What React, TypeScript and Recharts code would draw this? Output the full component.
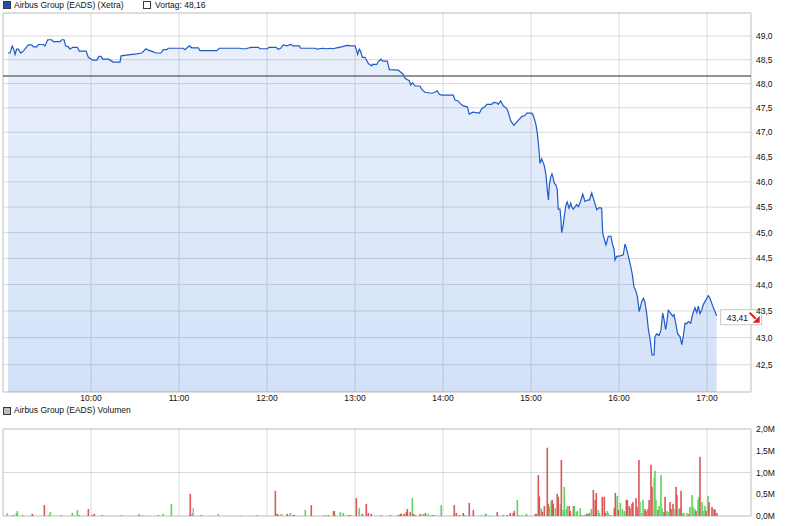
import {
  ComposedChart,
  Area,
  XAxis,
  YAxis,
  CartesianGrid,
  ReferenceLine,
  ReferenceDot,
  ReferenceArea,
  BarChart,
  Bar,
  Cell,
} from "recharts";

// minutes after 9:00 (Xetra session 9:00 - 17:30)
const hourTicks = [60, 120, 180, 240, 300, 360, 420, 480];
const priceTicks = [42.5, 43, 43.5, 44, 44.5, 45, 45.5, 46, 46.5, 47, 47.5, 48, 48.5, 49];
const volumeTicks = [0, 0.5, 1, 1.5, 2];
const previousClose = 48.16;

const priceTimes = [
  3.4, 4.8, 6.3, 7.5, 8.2, 9.3, 10.4, 12.1, 13.8, 17.3, 19.6, 20.7, 23.0, 24.1, 27.5, 28.6, 30.5, 33.2, 34.3, 38.9,
  40.0, 41.6, 42.7, 44.5, 45.7, 47.5, 50.7, 52.0, 56.6, 58.2, 59.3, 61.2, 63.9, 65.5, 66.8, 68.0, 71.8, 73.0, 75.2, 79.8,
  80.5, 85.4, 91.2, 94.6, 97.5, 99.1, 103.0, 104.3, 107.7, 109.3, 111.6, 112.7, 122.9, 124.1, 127.0, 128.7, 133.2, 134.3,
  145.7, 147.5, 161.6, 162.7, 165.7, 166.6, 169.1, 174.1, 175.2, 180.2, 181.4, 186.1, 187.7, 189.3, 191.1, 193.4, 196.2,
  197.9, 202.0, 203.0, 212.7, 213.9, 218.0, 221.1, 223.0, 224.8, 227.5, 230.9, 234.3, 237.7, 240.0,
  241.0, 241.8, 242.9, 243.9, 245.0, 246.8, 249.1, 251.4, 251.8, 254.8, 255.9, 257.7, 258.9, 262.0, 263.4, 269.5, 271.8,
  272.9, 274.1, 277.0, 278.0, 279.3, 280.9, 284.3, 285.5, 287.7, 292.3, 294.5, 296.1, 297.5, 299.1, 307.0, 308.2, 310.4,
  311.6, 313.8, 316.6, 317.9, 320.3, 324.8, 326.4, 328.6, 329.8, 333.2, 334.3, 336.6, 337.7, 339.3, 341.1, 343.4, 344.5,
  346.2, 348.4, 350.7, 353.7, 355.9, 357.1, 360.5, 361.6, 362.7, 363.4, 364.3, 365.0, 365.7, 366.1, 367.3, 368.0, 369.1,
  370.2, 371.1, 371.9, 372.5, 373.4, 374.3, 375.2, 375.9, 377.0, 377.9, 378.6, 379.8, 380.5, 380.9, 381.8, 382.7, 383.9,
  384.7, 385.9, 387.1, 387.7, 388.8, 391.1, 392.3, 393.4, 395.3, 396.8, 398.4, 399.8, 401.4, 403.2, 404.8, 406.6, 408.2,
  408.9, 409.8, 411.1, 412.7, 414.5, 415.7, 416.6, 417.3, 418.4, 420.7, 422.9, 424.1, 425.3, 426.4, 428.0, 429.1, 430.2,
  431.6, 432.5, 433.8, 435.5, 436.6, 437.7, 438.9, 440.0, 441.1, 442.5, 443.9, 444.5, 445.7, 447.3, 448.6, 449.8, 450.7,
  451.8, 452.5, 453.6, 455.2, 456.6, 457.5, 458.9, 460.0, 461.6, 462.8, 463.8, 465.0, 466.2, 467.3, 468.9, 470.3, 471.8,
  473.0, 474.1, 475.2, 476.4, 477.5, 479.3, 480.9, 482.0, 483.8, 485.4, 486.6,
];

const prices = [
  48.64, 48.64, 48.79, 48.7, 48.61, 48.72, 48.72, 48.64, 48.68, 48.81, 48.81, 48.77, 48.77, 48.82, 48.82, 48.79, 48.92, 48.92, 48.88, 48.88,
  48.92, 48.92, 48.79, 48.77, 48.72, 48.76, 48.76, 48.68, 48.68, 48.55, 48.53, 48.49, 48.49, 48.57, 48.57, 48.51, 48.51, 48.49, 48.45, 48.45,
  48.58, 48.6, 48.62, 48.64, 48.73, 48.7, 48.66, 48.64, 48.64, 48.71, 48.71, 48.74, 48.74, 48.71, 48.79, 48.75, 48.75, 48.69,
  48.69, 48.74, 48.74, 48.73, 48.73, 48.74, 48.76, 48.76, 48.73, 48.73, 48.76, 48.76, 48.72, 48.74, 48.81, 48.79, 48.82,
  48.79, 48.79, 48.74, 48.74, 48.72, 48.74, 48.73, 48.74, 48.73, 48.75, 48.77, 48.8, 48.79, 48.79,
  48.7, 48.61, 48.72, 48.67, 48.55, 48.55, 48.42, 48.37, 48.4, 48.4, 48.46, 48.51, 48.47, 48.47, 48.29, 48.28, 48.22,
  48.19, 48.11, 48.06, 47.97, 48.02, 47.95, 47.95, 47.88, 47.82, 47.8, 47.82, 47.85, 47.78, 47.76, 47.76, 47.66, 47.64,
  47.59, 47.54, 47.52, 47.37, 47.41, 47.39, 47.48, 47.52, 47.57, 47.57, 47.61, 47.6, 47.57, 47.64, 47.54, 47.49, 47.41,
  47.23, 47.14, 47.22, 47.32, 47.34, 47.39, 47.39, 47.34, 47.23, 47.15, 46.98, 46.78, 46.54, 46.37, 46.46, 46.41, 46.32,
  46.14, 45.84, 45.64, 45.94, 46.09, 46.16, 46.07, 45.97, 45.94, 45.84, 45.46, 45.46, 45.22, 45.0, 45.12, 45.32, 45.55,
  45.6, 45.48, 45.58, 45.51, 45.46, 45.55, 45.51, 45.58, 45.76, 45.61, 45.64, 45.64, 45.78, 45.61, 45.45, 45.49, 45.48,
  44.99, 44.89, 44.76, 44.93, 44.93, 44.76, 44.68, 44.47, 44.54, 44.55, 44.57, 44.78, 44.67, 44.54, 44.35, 44.19, 43.96,
  43.87, 43.77, 43.49, 43.68, 43.74, 43.66, 43.45, 43.16, 42.99, 42.68, 42.68, 43.02, 43.07, 43.04, 43.14, 43.46, 43.34,
  43.15, 43.27, 43.51, 43.46, 43.4, 43.43, 43.24, 43.07, 43.02, 42.87, 43.02, 43.27, 43.26, 43.3, 43.27, 43.45, 43.56,
  43.47, 43.59, 43.45, 43.52, 43.62, 43.71, 43.79, 43.74, 43.6, 43.49, 43.41,
];

const volumeTimes = [
  2.9, 7.0, 9.1, 9.8, 13.4, 20.0, 28.2, 28.6, 30.9, 32.2,
  39.7, 47.3, 50.7, 52.0, 58.2, 60.9, 62.2, 67.7, 80.7, 92.2,
  92.9, 95.0, 105.9, 109.3, 114.8, 127.0, 127.7, 129.1, 129.7, 135.2,
  146.8, 161.8, 173.4, 185.7, 187.0, 187.7, 189.8, 193.8, 195.2, 195.9,
  197.9, 198.6, 206.1, 210.2, 219.1, 219.8, 221.8, 225.2, 225.9, 226.6,
  230.0, 232.0, 234.8, 236.1, 236.8, 240.9, 242.9, 245.0, 247.7, 249.1,
  251.1, 257.9, 264.1, 269.5, 270.9, 271.6, 273.6, 275.0, 275.7, 277.7,
  279.1, 279.8, 281.1, 284.5, 286.6, 288.0, 290.0, 292.7, 294.1, 298.2,
  298.8, 307.7, 309.1, 311.1, 313.8, 314.5, 317.9, 320.7, 326.1, 328.8,
  329.5, 331.6, 337.0, 341.1, 343.8, 345.9, 347.9, 348.6, 350.7, 352.0,
  354.1, 356.8, 357.5, 363.0, 363.6, 365.0, 365.7, 367.0, 367.7, 369.1,
  371.1, 371.8, 372.5, 373.8, 374.5, 375.2, 376.6, 377.9, 378.6, 380.0,
  380.7, 382.0, 382.7, 384.1, 384.8, 386.1, 386.8, 388.9, 389.5, 390.9,
  391.6, 393.6, 394.3, 396.3, 397.7, 398.4, 399.8, 401.1, 402.5, 403.2,
  403.8, 404.5, 405.9, 406.6, 408.6, 410.0, 410.7, 412.0, 412.7, 414.1,
  416.8, 417.5, 418.8, 419.5, 420.9, 422.3, 423.6, 425.0, 425.7, 427.0,
  427.5, 428.9, 429.5, 431.6, 432.3, 433.6, 434.3, 435.7, 436.4, 437.7,
  438.4, 439.8, 440.5, 441.8, 442.5, 443.9, 444.5, 445.2, 446.6, 447.3,
  448.6, 449.3, 450.7, 451.4, 452.7, 453.4, 454.8, 455.5, 456.8, 457.5,
  458.9, 459.5, 460.2, 461.6, 462.3, 463.6, 464.3, 466.4, 467.7, 468.4,
  469.8, 470.5, 471.8, 472.5, 473.9, 474.5, 475.2, 476.6, 477.3, 478.6,
  479.3, 480.7, 481.4, 483.4, 484.8, 485.5, 486.8,
];

// millions of shares
const volumes = [
  0.07, 0.02, 0.07, 0.115, 0.025, 0.05, 0.25, 0.02, 0.02, 0.09,
  0.02, 0.07, 0.14, 0.02, 0.16, 0.02, 0.05, 0.02, 0.02, 0.02,
  0.05, 0.02, 0.02, 0.05, 0.28, 0.02, 0.51, 0.05, 0.18, 0.02,
  0.05, 0.02, 0.02, 0.58, 0.05, 0.02, 0.05, 0.05, 0.02, 0.07,
  0.02, 0.02, 0.14, 0.25, 0.02, 0.02, 0.02, 0.115, 0.115, 0.02,
  0.09, 0.07, 0.02, 0.02, 0.02, 0.41, 0.18, 0.05, 0.28, 0.07,
  0.05, 0.02, 0.02, 0.02, 0.05, 0.05, 0.05, 0.09, 0.16, 0.09,
  0.41, 0.05, 0.02, 0.05, 0.05, 0.07, 0.05, 0.02, 0.02, 0.02,
  0.25, 0.25, 0.07, 0.02, 0.07, 0.02, 0.3, 0.14, 0.02, 0.05,
  0.05, 0.02, 0.09, 0.02, 0.02, 0.07, 0.07, 0.12, 0.37, 0.02,
  0.02, 0.05, 0.02, 0.05, 0.05, 0.94, 0.45, 0.18, 0.1, 0.23,
  1.57, 0.28, 0.21, 0.35, 0.37, 0.28, 0.18, 0.51, 0.44, 0.28,
  1.29, 0.14, 0.67, 0.16, 0.23, 0.23, 0.115, 0.23, 0.23, 0.09,
  0.115, 0.18, 0.02, 0.02, 0.05, 0.05, 0.07, 0.16, 0.6, 0.02,
  0.37, 0.53, 0.14, 0.07, 0.44, 0.44, 0.07, 0.115, 0.07, 0.02,
  0.18, 0.53, 0.46, 0.14, 0.3, 0.16, 0.115, 0.37, 0.37, 0.23,
  0.18, 0.28, 0.32, 0.41, 0.21, 1.29, 0.32, 0.07, 0.37, 0.16,
  0.115, 0.16, 0.37, 1.18, 0.67, 0.88, 1.04, 0.37, 0.14, 0.23,
  0.94, 0.18, 0.09, 0.44, 0.115, 0.09, 0.32, 0.16, 0.28, 0.16,
  0.67, 0.48, 0.16, 0.18, 0.58, 0.07, 0.07, 0.07, 0.05, 0.21,
  0.48, 0.21, 0.16, 0.115, 0.37, 0.44, 1.36, 0.32, 0.115, 0.23,
  0.115, 0.46, 0.32, 0.21, 0.16, 0.14, 0.07,
];

// r = down tick, g = up tick, n = unchanged
const volumeMoves = (
  "nrgggrrngg" + "gggrrrrrgg" + "ggrggnrrnr" + "gngrrrgrgg" + "rrgrggrgrg" +
  "gggrrrgrrr" + "rgrrrrrrrr" + "grrrgrgrrn" + "grrrrrrrgg" + "gnrrrrrrgg" +
  "gggrrrrgrr" + "rrggrrgrrn" + "rggggrrrgg" + "ggrrgrrgrr" + "rrggrrrggr" +
  "rrgrgggrrr" + "rrrrrrgggr" + "rrrrrnggrg" + "ggrrggrrrg" + "rrgrrgggrg" +
  "gggrggrggg" + "rgrrrrr"
).split("");

const moveColors: Record<string, string> = { r: "#dc5656", g: "#5cd65c", n: "#b4b4b4" };

const priceData = priceTimes.map((t, i) => ({ t, p: prices[i] }));
const volumeData = volumeTimes.map((t, i) => ({ t, v: volumes[i], m: volumeMoves[i] }));
const lastPoint = priceData[priceData.length - 1];

const FONT = "'Liberation Sans', Arial, sans-serif";
const GRID = "#d9d9d9";
const BORDER = "#cfcfcf";
const tickStyle = { fontSize: 8.5, fill: "#111", fontFamily: FONT };
const BAR_W = 1.6;

const comma = (v: number, d: number) => v.toFixed(d).replace(".", ",");
const hourLabel = (m: number) => `${9 + Math.round(m / 60)}:00`;

// the numeric time axis gives a tiny band, so draw each bar at a fixed width around its centre
function ThinBar(props: any) {
  const { x, y, width, height, fill } = props;
  if (height == null || height <= 0) return null;
  const cx = x + width / 2;
  return <rect x={cx - BAR_W / 2} y={y} width={BAR_W} height={height} fill={fill} />;
}

function LastTag(props: any) {
  const { cx, cy } = props;
  if (cx == null || cy == null) return null;
  const x = cx + 4;
  const y = cy - 6;
  return (
    <g>
      <rect x={x} y={y} width={41} height={15} fill="#fff" stroke="#c8c8c8" />
      <text x={x + 6} y={y + 11} fontSize={8.5} fontFamily={FONT} fill="#111">
        {comma(lastPoint.p, 2)}
      </text>
      <line x1={x + 29} y1={y + 3} x2={x + 35} y2={y + 9} stroke="#e41b1b" strokeWidth={2} />
      <polygon points={`${x + 39},${y + 13} ${x + 39},${y + 6} ${x + 32},${y + 13}`} fill="#e41b1b" />
    </g>
  );
}

function Swatch({ left, top, color }: { left: number; top: number; color: string }) {
  return (
    <div
      style={{
        position: "absolute",
        left,
        top,
        width: 6,
        height: 6,
        background: color,
        border: "1px solid #3a3a3a",
      }}
    />
  );
}

function Caption({ left, top, children }: { left: number; top: number; children: string }) {
  return (
    <div
      style={{
        position: "absolute",
        left,
        top,
        fontSize: 8.5,
        lineHeight: "11px",
        color: "#111",
        fontFamily: FONT,
        whiteSpace: "nowrap",
      }}
    >
      {children}
    </div>
  );
}

export default function App() {
  return (
    <div
      style={{
        position: "absolute",
        left: 0,
        top: 0,
        width: 792,
        height: 526,
        background: "#fff",
        fontFamily: FONT,
        overflow: "hidden",
      }}
    >
      <div style={{ position: "absolute", left: 0, top: 0 }}>
        <ComposedChart width={792} height={410} data={priceData} margin={{ top: 13, right: 0, bottom: 0, left: 3 }}>
          <defs>
            <linearGradient id="priceFill" gradientUnits="userSpaceOnUse" x1="0" y1="13" x2="0" y2="392">
              <stop offset="0%" stopColor="rgb(35,105,220)" stopOpacity={0.09} />
              <stop offset="100%" stopColor="rgb(35,105,220)" stopOpacity={0.2} />
            </linearGradient>
          </defs>
          <CartesianGrid stroke={GRID} />
          <XAxis
            dataKey="t"
            type="number"
            domain={[0, 510]}
            ticks={hourTicks}
            tickFormatter={hourLabel}
            axisLine={false}
            tickLine={false}
            tickSize={0}
            tickMargin={3}
            height={18}
            tick={tickStyle}
          />
          <YAxis
            orientation="right"
            type="number"
            scale="log"
            domain={[42, 49.49]}
            allowDataOverflow
            ticks={priceTicks}
            tickFormatter={(v: number) => comma(v, 1)}
            axisLine={false}
            tickLine={false}
            tickSize={0}
            tickMargin={5}
            width={41}
            tick={tickStyle}
          />
          <ReferenceArea x1={0} x2={510} y1={42} y2={49.49} fill="none" stroke={BORDER} />
          <Area
            type="linear"
            dataKey="p"
            stroke="#1f5bc6"
            strokeWidth={1.2}
            fill="url(#priceFill)"
            fillOpacity={1}
            baseValue="dataMin"
            dot={false}
            activeDot={false}
            isAnimationActive={false}
          />
          <ReferenceLine y={previousClose} stroke="#707070" strokeWidth={1.5} />
          <ReferenceDot x={lastPoint.t} y={lastPoint.p} r={0} shape={LastTag} />
        </ComposedChart>
      </div>

      <div style={{ position: "absolute", left: 0, top: 420 }}>
        <BarChart width={792} height={106} data={volumeData} margin={{ top: 9, right: 0, bottom: 10, left: 3 }}>
          <CartesianGrid stroke={GRID} />
          <XAxis dataKey="t" type="number" domain={[0, 510]} ticks={hourTicks} hide />
          <YAxis
            orientation="right"
            type="number"
            domain={[0, 2]}
            ticks={volumeTicks}
            tickFormatter={(v: number) => `${comma(v, 1)}M`}
            axisLine={false}
            tickLine={false}
            tickSize={0}
            tickMargin={5}
            width={41}
            tick={tickStyle}
          />
          <ReferenceArea x1={0} x2={510} y1={0} y2={2} fill="none" stroke={BORDER} />
          <Bar dataKey="v" shape={ThinBar} isAnimationActive={false}>
            {volumeData.map((d, i) => (
              <Cell key={i} fill={moveColors[d.m] ?? moveColors.n} />
            ))}
          </Bar>
        </BarChart>
      </div>

      <Swatch left={3} top={1} color="#1e4fb4" />
      <Caption left={14} top={0}>Airbus Group (EADS) (Xetra)</Caption>
      <Swatch left={143} top={1} color="#ffffff" />
      <Caption left={155} top={0}>Vortag: 48,16</Caption>
      <Swatch left={3} top={407} color="#bdbdbd" />
      <Caption left={14} top={405}>Airbus Group (EADS) Volumen</Caption>
    </div>
  );
}
